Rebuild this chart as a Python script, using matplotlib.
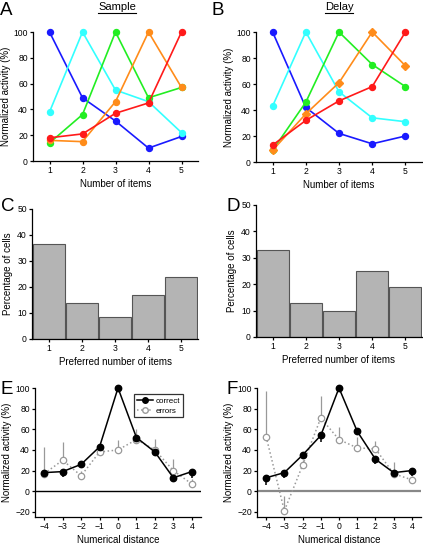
import matplotlib
matplotlib.use('Agg')
import matplotlib.pyplot as plt
from matplotlib.lines import Line2D

plt.rcParams['font.family'] = ['Liberation Sans', 'DejaVu Sans']
plt.rcParams['font.size'] = 7

# Datos
items = [1, 2, 3, 4, 5]
line_colors = ['#1a1aff', '#33ffff', '#22ee22', '#ff8c1a', '#ff1a1a']

sample_blue = [100, 49, 31, 10, 19]
sample_cyan = [38, 100, 55, 46, 22]
sample_green = [14, 36, 100, 49, 57]
sample_orange = [16, 15, 46, 100, 57]
sample_red = [18, 21, 37, 45, 100]

delay_blue = [100, 42, 22, 14, 20]
delay_cyan = [43, 100, 54, 34, 31]
delay_green = [9, 46, 100, 75, 58]
delay_orange = [9, 37, 61, 100, 74]
delay_red = [13, 32, 47, 58, 100]

pref_sample = [36.5, 14, 8.5, 17, 24]
pref_delay = [33, 13, 10, 25, 19]

distance = [-4, -3, -2, -1, 0, 1, 2, 3, 4]
e_correct = [18, 19, 26, 43, 100, 52, 38, 13, 19]
e_correct_err = [5, 5, 4, 4, 0, 3, 3, 3, 6]
e_errors = [17, 30, 15, 38, 40, 50, 40, 20, 7]
e_errors_err = [26, 18, 5, 6, 10, 10, 11, 11, 5]

f_correct = [13, 18, 35, 54, 100, 58, 31, 18, 20]
f_correct_err = [7, 5, 3, 6, 0, 4, 5, 3, 5]
f_errors = [53, -19, 25, 71, 50, 42, 41, 17, 11]
f_errors_err = [44, 14, 5, 21, 12, 11, 8, 11, 4]

W, H = 423, 546
fig = plt.figure(figsize=(W / 100, H / 100), dpi=100)


def ax_px(left, top, width, height):
    return fig.add_axes([left / W, 1 - (top + height) / H, width / W, height / H])


def style(ax):
    for s in ['top', 'right']:
        ax.spines[s].set_visible(False)
    for s in ['left', 'bottom']:
        ax.spines[s].set_linewidth(0.9)
    ax.tick_params(direction='out', length=2.5, width=0.9, labelsize=6.2, pad=1.2)


def lines_panel(ax, series, orange_diamond=False):
    for i, (vals, c) in enumerate(zip(series, line_colors)):
        m = 'D' if (orange_diamond and i == 3) else 'o'
        ms = 3.6 if m == 'D' else 4.3
        ax.plot(items, vals, color=c, lw=1.2, marker=m, ms=ms, clip_on=False, zorder=3)
    ax.set_xlim(0.5, 5.5)
    ax.set_ylim(0, 100)
    ax.set_xticks(items)
    ax.set_yticks([0, 20, 40, 60, 80, 100])
    ax.set_xlabel('Number of items', labelpad=3)
    ax.set_ylabel('Normalized activity (%)', labelpad=1.5)
    style(ax)


def bars_panel(ax, vals):
    ax.bar(items, vals, width=0.96, color='#b4b4b4', edgecolor='#555555', lw=0.8)
    ax.set_xlim(0.5, 5.5)
    ax.set_ylim(0, 50)
    ax.set_xticks(items)
    ax.set_yticks([0, 10, 20, 30, 40, 50])
    ax.set_xlabel('Preferred number of items', labelpad=3)
    ax.set_ylabel('Percentage of cells', labelpad=3)
    style(ax)


def dist_panel(ax, corr, corr_err, err, err_err, zero_color):
    ax.axhline(0, color=zero_color, lw=1.0 if zero_color == 'black' else 1.6, zorder=1)
    ax.errorbar(distance, err, yerr=[[0] * 9, err_err], fmt='none', ecolor='#999999',
                elinewidth=0.9, capsize=0, zorder=2)
    ax.errorbar(distance, corr, yerr=[corr_err, [0] * 9], fmt='none', ecolor='black',
                elinewidth=1.1, capsize=0, zorder=2)
    ax.plot(distance, err, color='#999999', ls=':', lw=1.1, marker='o', ms=4.6,
            mfc='white', mec='#999999', mew=0.9, zorder=3)
    ax.plot(distance, corr, color='black', lw=1.1, marker='o', ms=4.6,
            mfc='black', mec='black', zorder=4, clip_on=False)
    ax.set_xlim(-4.5, 4.5)
    ax.set_ylim(-25, 100)
    ax.set_xticks(distance)
    ax.set_yticks([-20, 0, 20, 40, 60, 80, 100])
    ax.set_xlabel('Numerical distance', labelpad=3)
    ax.set_ylabel('Normalized activity (%)', labelpad=2)
    style(ax)


axA = ax_px(33, 32, 165, 129)
lines_panel(axA, [sample_blue, sample_cyan, sample_green, sample_orange, sample_red])
axB = ax_px(256, 32, 166, 130)
lines_panel(axB, [delay_blue, delay_cyan, delay_green, delay_orange, delay_red], orange_diamond=True)

axC = ax_px(32, 209, 166, 130)
bars_panel(axC, pref_sample)
axD = ax_px(256, 205, 166, 132)
bars_panel(axD, pref_delay)

axE = ax_px(35, 388, 166, 129)
dist_panel(axE, e_correct, e_correct_err, e_errors, e_errors_err, 'black')
axF = ax_px(257, 388, 164, 129)
dist_panel(axF, f_correct, f_correct_err, f_errors, f_errors_err, '#888888')

handles = [Line2D([], [], color='black', lw=1.1, marker='o', ms=4, mfc='black'),
           Line2D([], [], color='#999999', ls=':', lw=1.1, marker='o', ms=4, mfc='white', mec='#999999')]
leg = axE.legend(handles, ['correct', 'errors'], loc='upper right', bbox_to_anchor=(0.89, 0.95),
                 fontsize=5.8, frameon=True, fancybox=False, handlelength=2.0,
                 handletextpad=0.3, borderpad=0.35, labelspacing=0.25, borderaxespad=0)
leg.get_frame().set_edgecolor('black')
leg.get_frame().set_linewidth(0.9)

# Letras de panel
for lab, x, y in [('A', 0, 2), ('B', 211, 2), ('C', 1, 198), ('D', 226, 198),
                  ('E', 0, 381), ('F', 226, 381)]:
    fig.text(x / W, 1 - y / H, lab, fontsize=13.5, va='top', ha='left')

# Titulos subrayados
fig.canvas.draw()
renderer = fig.canvas.get_renderer()
for txt, xc in [('Sample', 117), ('Delay', 339)]:
    t = fig.text(xc / W, 1 - 2 / H, txt, fontsize=8, ha='center', va='top')
    bb = t.get_window_extent(renderer).transformed(fig.transFigure.inverted())
    y = bb.y0 - 1.0 / H
    fig.add_artist(Line2D([bb.x0, bb.x1], [y, y], color='black', lw=0.8, transform=fig.transFigure))

fig.savefig('out.png', dpi=100)
